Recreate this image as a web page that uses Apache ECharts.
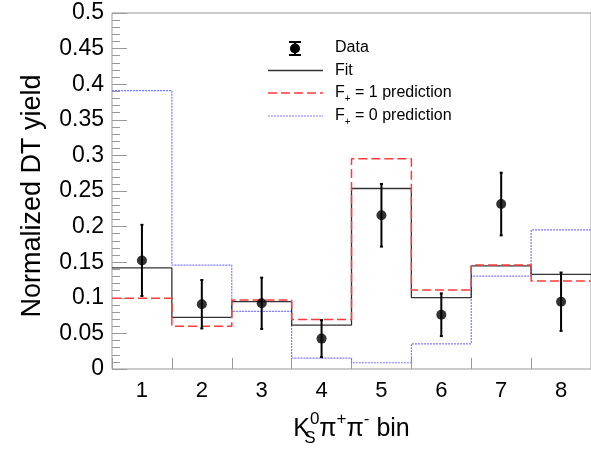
<!DOCTYPE html>
<html>
<head>
<meta charset="utf-8">
<script src="https://cdn.jsdelivr.net/npm/echarts@6/dist/echarts.min.js"></script>
<style>
html,body{margin:0;padding:0;background:#fff;}
#chart{width:591px;height:452px;}
</style>
</head>
<body>
<div id="chart"></div>
<script>
// ---- data ----
const bins = ['1', '2', '3', '4', '5', '6', '7', '8'];
const yTicks = [0, 0.05, 0.1, 0.15, 0.2, 0.25, 0.3, 0.35, 0.4, 0.45, 0.5];
const fitValues = [0.142, 0.0724, 0.0947, 0.0617, 0.2535, 0.1003, 0.1448, 0.133];
const fPlus1Values = [0.0993, 0.0599, 0.097, 0.0696, 0.2953, 0.111, 0.1462, 0.1235];
const fPlus0Values = [0.391, 0.1458, 0.0808, 0.0153, 0.0088, 0.0353, 0.1305, 0.1954];
const dataValues = [0.1525, 0.091, 0.0923, 0.0427, 0.2159, 0.0762, 0.2317, 0.0945];
const dataErrors = [0.050, 0.034, 0.036, 0.026, 0.044, 0.030, 0.044, 0.041];

const FONT = '"Liberation Sans", Arial, Helvetica, sans-serif';

function stepData(vals) {
  const out = vals.map((v, i) => [i, v]);
  out.push([vals.length, vals[vals.length - 1]]);
  return out;
}
const points = dataValues.map((v, i) => [i + 0.5, v, dataErrors[i]]);

const chart = echarts.init(document.getElementById('chart'), null, {renderer: 'canvas'});

const legendX0 = 268, legendX1 = 323, legendTextX = 335;
const rows = [48, 70.5, 93, 116];
const BLUE = '#7a7aff';

const option = {
  animation: false,
  backgroundColor: '#fff',
  textStyle: {fontFamily: FONT},
  grid: {
    left: 112, top: 13, width: 490, height: 359,
    show: true, borderColor: '#999', borderWidth: 1, backgroundColor: 'transparent'
  },
  xAxis: [
    {
      type: 'value', min: 0, max: bins.length, interval: 1,
      axisLine: {show: false},
      axisTick: {show: true, inside: true, length: 11, lineStyle: {color: '#999'}},
      axisLabel: {show: false},
      splitLine: {show: false}
    },
    {
      type: 'category', data: bins, position: 'bottom', boundaryGap: true,
      axisLine: {show: false}, axisTick: {show: false}, splitLine: {show: false},
      axisLabel: {fontSize: 22, color: '#000', margin: 11, fontFamily: FONT},
      name: 'K{sb|S}{sp|0}π{sp|+}π{sp|-} bin',
      nameLocation: 'middle', nameGap: 42,
      nameTextStyle: {
        fontSize: 25, color: '#000', fontFamily: FONT, lineHeight: 36,
        rich: {
          sb: {fontSize: 17, color: '#000', fontFamily: FONT, verticalAlign: 'bottom', width: 0, lineHeight: 36},
          sp: {fontSize: 17, color: '#000', fontFamily: FONT, verticalAlign: 'top', lineHeight: 36}
        }
      }
    }
  ],
  yAxis: {
    type: 'value', min: yTicks[0], max: yTicks[yTicks.length - 1], interval: 0.05,
    axisLine: {show: false},
    axisTick: {show: true, inside: true, length: 15, lineStyle: {color: '#999'}},
    minorTick: {show: true, splitNumber: 5, length: 8, lineStyle: {color: '#999'}},
    splitLine: {show: false},
    axisLabel: {fontSize: 23, color: '#000', margin: 8, fontFamily: FONT},
    name: 'Normalized DT yield', nameLocation: 'middle', nameGap: 66,
    nameTextStyle: {fontSize: 27, color: '#000', fontFamily: FONT, padding: [0, 0, 0, -10]}
  },
  series: [
    {
      name: 'F+ = 0 prediction', type: 'line', step: 'end', data: stepData(fPlus0Values),
      symbol: 'none', silent: true, z: 2,
      lineStyle: {color: BLUE, width: 1.2, type: [2, 1]}
    },
    {
      name: 'Fit', type: 'line', step: 'end', data: stepData(fitValues),
      symbol: 'none', silent: true, z: 3,
      lineStyle: {color: '#333', width: 1.3}
    },
    {
      name: 'F+ = 1 prediction', type: 'line', step: 'end', data: stepData(fPlus1Values),
      symbol: 'none', silent: true, z: 4,
      lineStyle: {color: '#ff3b3b', width: 1.5, type: [9, 4]}
    },
    {
      name: 'Data', type: 'custom', data: points, z: 5, silent: true,
      renderItem: function (params, api) {
        const x = api.value(0), v = api.value(1), e = api.value(2);
        const top = api.coord([x, v + e]);
        const bot = api.coord([x, v - e]);
        const st = {stroke: '#000', lineWidth: 2};
        return {
          type: 'group',
          children: [
            {type: 'line', shape: {x1: top[0], y1: top[1], x2: bot[0], y2: bot[1]}, style: st},
            {type: 'line', shape: {x1: top[0] - 1.5, y1: top[1], x2: top[0] + 1.5, y2: top[1]}, style: st},
            {type: 'line', shape: {x1: bot[0] - 1.5, y1: bot[1], x2: bot[0] + 1.5, y2: bot[1]}, style: st}
          ]
        };
      }
    },
    {
      name: 'Data points', type: 'scatter', data: points.map(p => [p[0], p[1]]),
      symbol: 'circle', symbolSize: 10, z: 6, silent: true,
      itemStyle: {color: '#000'}
    }
  ],
  graphic: [
    // legend: Data
    {type: 'line', shape: {x1: 295, y1: 42, x2: 295, y2: 55}, style: {stroke: '#000', lineWidth: 2}},
    {type: 'line', shape: {x1: 289, y1: 42, x2: 301, y2: 42}, style: {stroke: '#000', lineWidth: 2}},
    {type: 'line', shape: {x1: 289, y1: 55, x2: 301, y2: 55}, style: {stroke: '#000', lineWidth: 2}},
    {type: 'circle', shape: {cx: 295, cy: 48.5, r: 5}, style: {fill: '#000'}},
    {type: 'text', x: legendTextX, y: rows[0], style: {text: 'Data', fontSize: 16, fontFamily: FONT, fill: '#000', verticalAlign: 'middle'}},
    // Fit
    {type: 'line', shape: {x1: legendX0, y1: rows[1], x2: legendX1, y2: rows[1]}, style: {stroke: '#333', lineWidth: 1.3}},
    {type: 'text', x: legendTextX, y: rows[1], style: {text: 'Fit', fontSize: 16, fontFamily: FONT, fill: '#000', verticalAlign: 'middle'}},
    // F+ = 1
    {type: 'line', shape: {x1: legendX0, y1: rows[2], x2: legendX1, y2: rows[2]}, style: {stroke: '#ff3b3b', lineWidth: 1.5, lineDash: [9, 4]}},
    {type: 'text', x: legendTextX, y: rows[2], style: {
      text: 'F{s|+} = 1 prediction', fontSize: 16, fontFamily: FONT, fill: '#000', verticalAlign: 'middle',
      rich: {s: {fontSize: 10, fontFamily: FONT, fill: '#000', verticalAlign: 'bottom', lineHeight: 22}}
    }},
    // F+ = 0
    {type: 'line', shape: {x1: legendX0, y1: rows[3], x2: legendX1, y2: rows[3]}, style: {stroke: BLUE, lineWidth: 1.2, lineDash: [2, 1]}},
    {type: 'text', x: legendTextX, y: rows[3], style: {
      text: 'F{s|+} = 0 prediction', fontSize: 16, fontFamily: FONT, fill: '#000', verticalAlign: 'middle',
      rich: {s: {fontSize: 10, fontFamily: FONT, fill: '#000', verticalAlign: 'bottom', lineHeight: 22}}
    }}
  ]
};
chart.setOption(option);
</script>
</body>
</html>
